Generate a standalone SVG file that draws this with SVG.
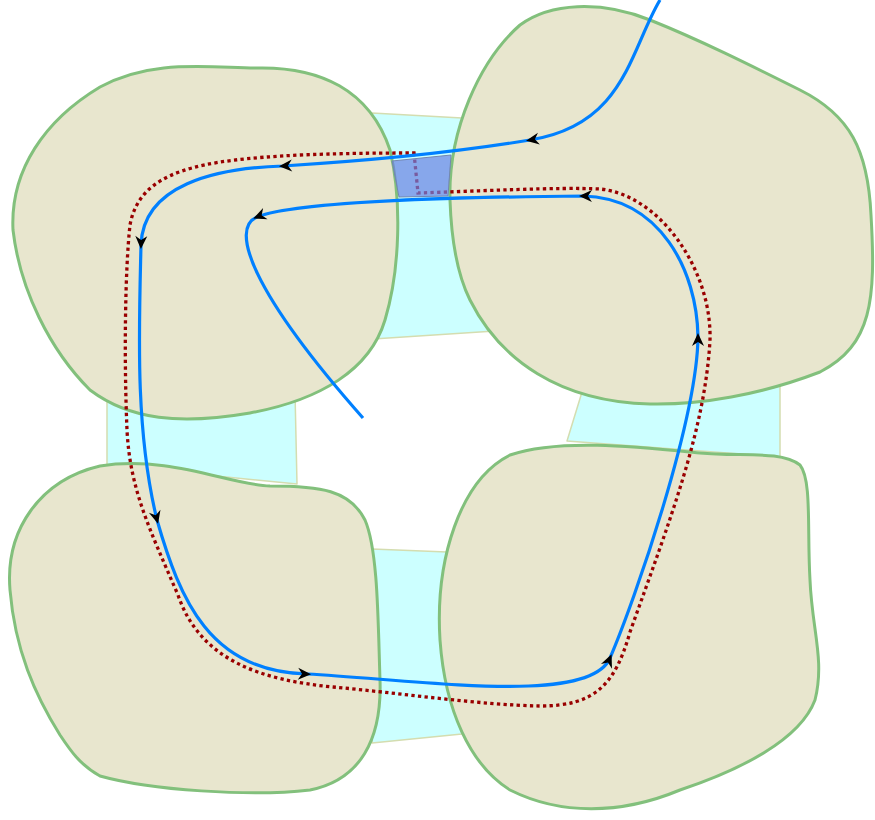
<svg xmlns="http://www.w3.org/2000/svg" width="875" height="820" viewBox="0 0 875 820">
  <style>
    .bridge { fill: #ccffff; stroke: #d4ddb0; stroke-width: 1.5; stroke-linejoin: round; }
    .blob { fill: #e8e6ce; stroke: #82c07c; stroke-width: 3; }
    .loop { fill: none; stroke: #990000; stroke-width: 3.3; stroke-dasharray: 3.3 3.3; }
    .path { fill: none; stroke: #0080ff; stroke-width: 3.2; stroke-linecap: butt; }
    .patch { fill: #6a82e2; fill-opacity: 0.7; stroke: #7386b0; stroke-width: 1; }
  </style>
  <defs>
    <marker id="arr" markerUnits="userSpaceOnUse" markerWidth="16" markerHeight="14" viewBox="-11 -7 16 14" refX="0" refY="0" orient="auto">
      <path d="M4,0 L-9,-6 L-5,0 L-9,6 Z" fill="#000000"/>
    </marker>
  </defs>

  <g id="bridges">
    <polygon id="bridge-top" class="bridge" points="372,113 462,118 495,331 373,339"/>
    <polygon id="bridge-left" class="bridge" points="107,395 295,392 297,484 107,465"/>
    <polygon id="bridge-right" class="bridge" points="582,392 780,386 780,457 567,441"/>
    <polygon id="bridge-bottom" class="bridge" points="372,549 447,552 462,734 372,743"/>
  </g>

  <g id="region-tl">
    <path class="blob" d="M 13,230 C 10,170 45,120 100,87 C 150,60 200,67 255,68 C 320,66 370,90 390,150 C 402,200 400,270 385,320 C 370,370 320,400 250,413 C 180,425 130,420 90,390 C 50,350 20,290 13,230 Z"/>
  </g>
  <g id="region-tr">
    <path class="blob" d="M 450,200 C 448,130 480,60 520,25 C 550,3 600,0 650,20 C 700,40 750,65 800,90 C 850,115 868,150 871,215 C 876,300 872,345 820,372 C 760,395 700,405 650,404 C 560,402 500,360 470,300 C 455,270 451,230 450,200 Z"/>
  </g>
  <g id="region-bl">
    <path class="blob" d="M 10,590 C 5,530 40,480 100,466 C 170,455 230,485 270,486 C 320,486 350,490 365,520 C 378,550 378,620 380,680 C 382,740 360,780 310,790 C 250,797 150,790 100,776 C 80,765 70,750 60,735 C 35,695 15,650 10,590 Z"/>
  </g>
  <g id="region-br">
    <path class="blob" d="M 440,640 C 435,560 460,480 510,455 C 560,438 640,447 700,453 C 740,457 780,450 800,465 C 812,480 807,530 810,580 C 812,630 825,660 815,700 C 800,740 740,770 680,790 C 620,815 560,815 510,790 C 470,765 445,710 440,640 Z"/>
  </g>

  <g id="connectors">
    <path id="loop" class="loop" d="M 414,153 L 418,193 C 480,191 560,187 600,189 C 660,195 712,270 710,340 C 705,430 670,520 630,632 C 615,685 595,706 540,706 C 480,705 400,693 333,687 C 260,680 200,660 178,595 C 150,530 130,490 127,430 C 124,360 125,270 130,225 C 140,170 200,160 300,155 C 350,153 390,153 414,153 Z"/>
    <polygon id="patch" class="patch" points="392,161 451,155 448,196 399,197"/>
    <path id="trajectory" class="path" marker-mid="url(#arr)" d="M 660,0 C 630,50 625,125 530,140 C 470,150 380,160 283,166 C 215,168 143,185 141,245 C 139,330 135,430 157,520 C 180,600 210,672 307,674 C 430,681 590,705 610,658 C 635,600 697,420 698,337 C 697,270 660,198 583,196 C 470,197 300,200 257,217 C 230,228 250,290 363,418"/>
  </g>
</svg>
